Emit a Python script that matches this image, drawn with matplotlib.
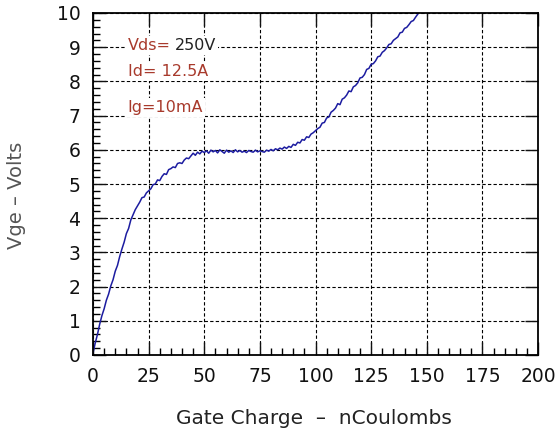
import numpy as np
import matplotlib
matplotlib.use("Agg")
import matplotlib.pyplot as plt
from matplotlib.ticker import MultipleLocator

# Gate charge (nC) and gate-emitter voltage (V)
charge = list(range(0, 147))
vge = [
    0.05, 0.35, 0.60, 0.90, 1.15, 1.35, 1.60, 1.78, 2.02, 2.20,
    2.45, 2.62, 2.88, 3.10, 3.30, 3.55, 3.70, 3.95, 4.10, 4.25,
    4.36, 4.47, 4.60, 4.62, 4.74, 4.80, 4.86, 4.98, 5.00, 5.12,
    5.10, 5.22, 5.30, 5.28, 5.42, 5.45, 5.50, 5.48, 5.60, 5.62,
    5.60, 5.70, 5.76, 5.74, 5.82, 5.90, 5.84, 5.93, 5.88, 5.96,
    5.92, 5.97, 5.90, 5.99, 5.94, 5.98, 5.91, 6.00, 5.95, 5.90,
    5.99, 5.93, 5.97, 5.92, 6.00, 5.94, 5.98, 5.93, 5.96, 5.92,
    5.98, 5.95, 5.93, 5.99, 5.94, 5.97, 5.95, 5.93, 5.99, 5.96,
    6.01, 5.97, 6.03, 6.00, 6.05, 6.02, 6.08, 6.04, 6.10, 6.07,
    6.16, 6.13, 6.22, 6.20, 6.30, 6.28, 6.38, 6.36, 6.46, 6.50,
    6.56, 6.62, 6.66, 6.78, 6.80, 6.93, 6.96, 7.10, 7.15, 7.22,
    7.35, 7.32, 7.48, 7.52, 7.60, 7.72, 7.70, 7.84, 7.88, 7.96,
    8.10, 8.12, 8.20, 8.35, 8.38, 8.50, 8.52, 8.60, 8.72, 8.74,
    8.85, 8.90, 8.98, 9.08, 9.10, 9.20, 9.25, 9.30, 9.42, 9.44,
    9.55, 9.58, 9.66, 9.75, 9.78, 9.88, 9.97,
]
x_ticks = [0, 25, 50, 75, 100, 125, 150, 175, 200]
y_ticks = list(range(0, 11))

red = "#a83a2c"

fig = plt.figure(figsize=(5.59, 4.38), dpi=100)
ax = fig.add_axes([93 / 559, 1 - 355 / 438, 445 / 559, 342 / 438])

ax.plot(charge, vge, color="#1c1ca0", linewidth=1.1)

ax.set_xlim(0, 200)
ax.set_ylim(0, 10)
ax.set_xticks(x_ticks)
ax.set_yticks(y_ticks)
ax.xaxis.set_minor_locator(MultipleLocator(5))
ax.yaxis.set_minor_locator(MultipleLocator(0.2))

ax.grid(which="major", color="black", linestyle=(0, (3, 2)), linewidth=0.8)
ax.tick_params(which="major", direction="in", length=9.5, width=1.0,
               top=True, right=True, labelsize=13.5, pad=9, colors="#111111")
ax.tick_params(which="minor", direction="in", length=5, width=1.0,
               top=False, right=False)
for s in ax.spines.values():
    s.set_linewidth(1.3)

ax.set_xlabel("Gate Charge  \u2013  nCoulombs", fontsize=14.5, color="#222222")
ax.xaxis.set_label_coords(0.497, -0.158)
ax.set_ylabel("Vge \u2013 Volts", fontsize=14, color="#555555")
ax.yaxis.set_label_coords(-0.150, 0.468)

box = dict(facecolor="white", edgecolor="none", pad=1.5)
ax.text(0.078, 0.905, "Vds=", color=red, fontsize=11.5, transform=ax.transAxes,
        va="center", bbox=box)
ax.text(0.184, 0.905, "250V", color="#222222", fontsize=11.5,
        transform=ax.transAxes, va="center", bbox=box)
ax.text(0.078, 0.83, "Id= 12.5A", color=red, fontsize=11.5,
        transform=ax.transAxes, va="center", bbox=box)
ax.text(0.078, 0.723, "Ig=10mA", color=red, fontsize=11.5,
        transform=ax.transAxes, va="center", bbox=box)

fig.savefig("out.png", dpi=100)
